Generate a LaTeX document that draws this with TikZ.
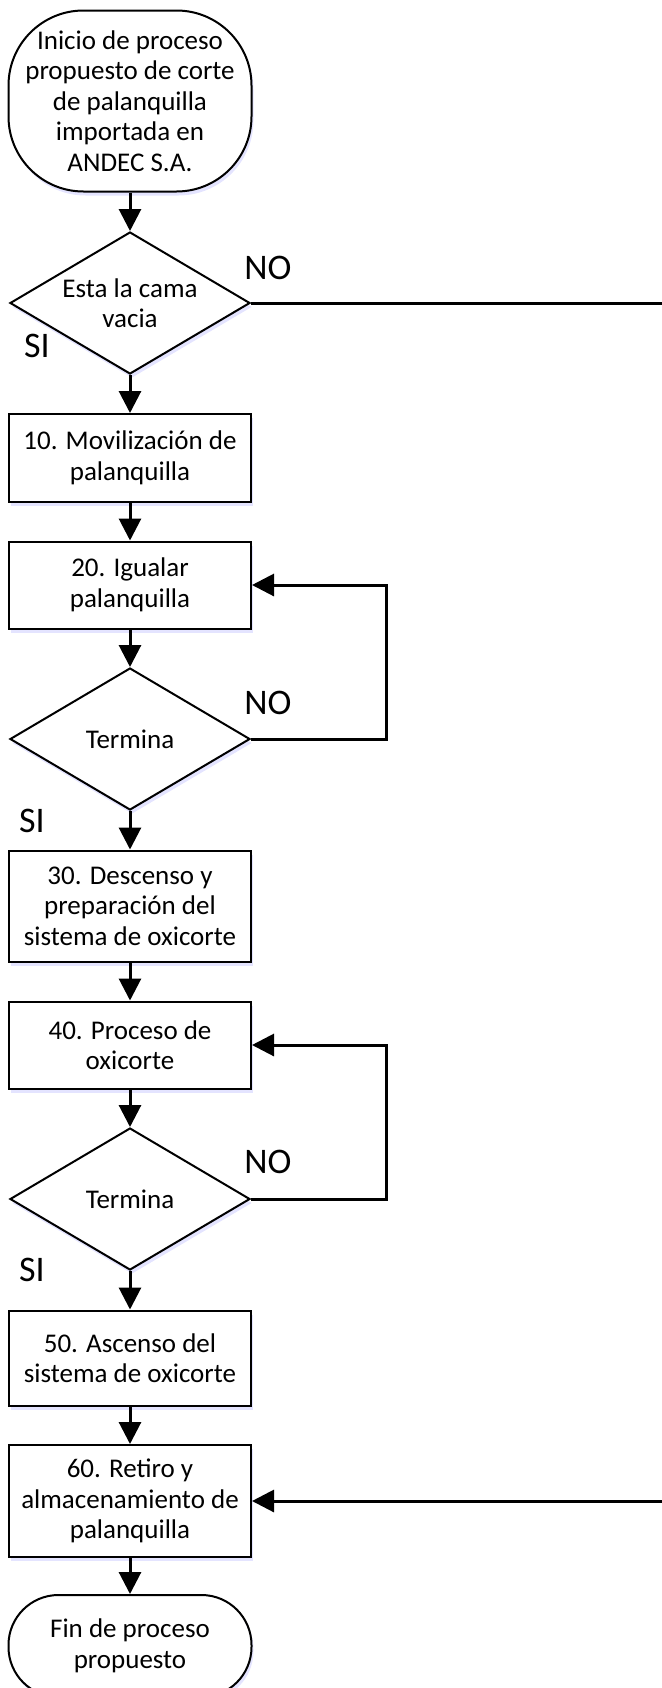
\documentclass[tikz,border=0pt]{standalone}
\usepackage{fontspec}
\setmainfont{Carlito}
\usetikzlibrary{arrows.meta,shapes,shadows}

\begin{document}
\begin{tikzpicture}[
  >={Triangle[length=22bp,width=22bp]},
  txt/.style={font=\fontsize{27bp}{30.5bp}\selectfont,align=center},
  softshadow/.style={drop shadow={shadow xshift=2bp,shadow yshift=-4bp,fill=blue!30,opacity=0.35}},
  proc/.style={draw,line width=2bp,fill=white,softshadow,txt,rectangle,minimum width=242bp,inner sep=0pt},
  term/.style={draw,line width=2bp,fill=white,softshadow,txt,rectangle,minimum width=243bp,inner sep=0pt},
  decis/.style={draw,line width=2bp,fill=white,softshadow,txt,diamond,aspect=1.7,minimum width=240bp,minimum height=142bp,inner sep=0pt},
  conn/.style={->,line width=3bp},
  answer/.style={font=\fontsize{36bp}{40bp}\selectfont}
]
\useasboundingbox (0bp,0bp) rectangle (662bp,-1688bp);
\clip (0bp,0bp) rectangle (662bp,-1688bp);

\node (INI) at (130bp,-101bp)[term,rounded corners=75bp,minimum height=181bp] {Inicio de proceso\\propuesto de corte\\de palanquilla\\importada en\\ANDEC S.A.};
\node (D1) at (130bp,-303bp)[decis] {Esta la cama\\vacia};
\node (B10) at (130bp,-458bp)[proc,minimum height=88bp] {10. Movilización de\\palanquilla};
\node (B20) at (130bp,-585bp)[proc,minimum height=87bp] {20. Igualar\\palanquilla};
\node (D2) at (130bp,-739bp)[decis] {Termina};
\node (B30) at (130bp,-906bp)[proc,minimum height=111bp] {30. Descenso y\\preparación del\\sistema de oxicorte};
\node (B40) at (130bp,-1045bp)[proc,minimum height=87bp] {40. Proceso de\\oxicorte};
\node (D3) at (130bp,-1199bp)[decis] {Termina};
\node (B50) at (130bp,-1358bp)[proc,minimum height=95bp] {50. Ascenso del\\sistema de oxicorte};
\node (B60) at (130bp,-1501bp)[proc,minimum height=112bp] {60. Retiro y\\almacenamiento de\\palanquilla};
\node (FIN) at (130bp,-1646bp)[term,rounded corners=50bp,minimum height=102bp] {Fin de proceso\\propuesto};

\node (NO1) at (268bp,-268bp)[answer] {NO};
\node (SI1) at (37bp,-346bp)[answer] {SI};
\node (NO2) at (268bp,-703bp)[answer] {NO};
\node (SI2) at (32bp,-821bp)[answer] {SI};
\node (NO3) at (268bp,-1162bp)[answer] {NO};
\node (SI3) at (32bp,-1270bp)[answer] {SI};

\draw [conn] (INI) -- (D1);
\draw [conn] (D1) -- (B10);
\draw [conn] (B10) -- (B20);
\draw [conn] (B20) -- (D2);
\draw [conn] (D2) -- (B30);
\draw [conn] (B30) -- (B40);
\draw [conn] (B40) -- (D3);
\draw [conn] (D3) -- (B50);
\draw [conn] (B50) -- (B60);
\draw [conn] (B60) -- (FIN);
\draw [conn] (D2.east) -- ++(135bp,0bp) |- (B20.east);
\draw [conn] (D3.east) -- ++(135bp,0bp) |- (B40.east);
\draw [conn] (D1.east) -- ++(460bp,0bp) |- (B60.east);
\end{tikzpicture}
\end{document}
